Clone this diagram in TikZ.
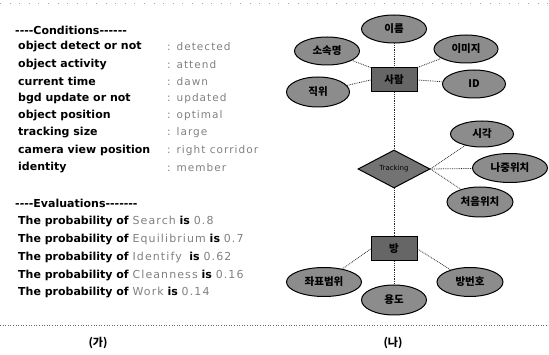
\documentclass[tikz,border=0pt]{standalone}
\usepackage{fontspec}
\setmainfont{DejaVu Sans}
\newfontfamily\kr{Noto Sans CJK KR}
\newfontfamily\valfont[LetterSpace=10]{DejaVu Sans}
\usetikzlibrary{shapes.geometric}
\newcommand\grayval[1]{{\mdseries\valfont\color{black!50}#1}}
\begin{document}
\begin{tikzpicture}[x=1pt,y=-1pt,
 lbl/.style={anchor=west, inner sep=0pt, font=\fontsize{11}{13}\selectfont\bfseries},
 val/.style={anchor=west, inner sep=0pt, font=\fontsize{10.5}{12}\valfont, text=black!50},
 attr/.style={ellipse, draw=black, line width=1pt, fill=black!45, inner sep=0pt, minimum width=64pt, minimum height=28pt, font=\kr\bfseries\fontsize{10.5}{12}\selectfont},
 ent/.style={rectangle, draw=black, line width=1pt, fill=black!60, minimum width=46pt, minimum height=24pt, inner sep=0pt, font=\kr\bfseries\fontsize{10.5}{12}\selectfont},
 rel/.style={diamond, draw=black, line width=1pt, fill=black!55, minimum width=72pt, minimum height=38pt, inner sep=0pt, aspect=1.9, font=\fontsize{7}{8}\selectfont},
 link/.style={densely dotted, line width=0.8pt, black!85},
 sepline/.style={dotted, line width=0.6pt, black!60},
 captext/.style={inner sep=0pt, font=\kr\bfseries\fontsize{11}{13}\selectfont}
]
\useasboundingbox (0,0) rectangle (549,355);
% faint top dots
\draw[black!35, line width=0.5pt, dash pattern=on 0.6pt off 9pt] (0,3) -- (549,3);

% ---- left panel: conditions
\node[lbl] (ch) at (15,30) {-{}-{}-{}-Conditions-{}-{}-{}-{}-{}-};
\foreach \i/\k/\v in {1/object detect or not/detected, 2/object activity/attend, 3/current time/dawn, 4/bgd update or not/updated, 5/object position/optimal, 6/tracking size/large, 7/camera view position/right corridor, 8/identity/member}{
  \node[lbl] (k\i) at (18,{29.8+17.2*\i}) {\k};
  \node[val] (v\i) at (167,{29.8+17.2*\i}) {: \v};
}

% ---- evaluations
\node[lbl] (eh) at (15,203) {-{}-{}-{}-Evaluations-{}-{}-{}-{}-{}-{}-};
\node[lbl] (e1) at (18,222) {The probability of \grayval{Search} is \grayval{0.8}};
\node[lbl] (e2) at (18,240) {The probability of \grayval{Equilibrium} is \grayval{0.7}};
\node[lbl] (e3) at (18,257.5) {The probability of \grayval{Identify}\ \ is \grayval{0.62}};
\node[lbl] (e4) at (18,275.5) {The probability of \grayval{Cleanness} is \grayval{0.16}};
\node[lbl] (e5) at (18,293) {The probability of \grayval{Work} is \grayval{0.14}};

% ---- right panel
\node[ent] (person) at (394,80) {사람};
\node[attr, minimum width=65pt] (name) at (394,29) {이름};
\node[attr, minimum width=65pt] (sosok) at (327,51) {소속명};
\node[attr] (image) at (466,49) {이미지};
\node[attr, minimum width=63pt, minimum height=30pt] (jikwi) at (318,92) {직위};
\node[attr, minimum width=63pt] (id) at (474,84) {ID};

\node[rel] (track) at (394,169) {Tracking};
\node[attr, minimum width=63pt, minimum height=26pt] (time) at (482,134) {시각};
\node[attr, minimum width=75pt, minimum height=29pt] (later) at (510,168) {나중위치};
\node[attr, minimum width=66pt, minimum height=30pt] (first) at (480,202) {처음위치};

\node[ent] (room) at (394,249) {방};
\node[attr, minimum width=75pt, minimum height=29pt] (coord) at (324,282) {좌표범위};
\node[attr, minimum width=65pt, minimum height=30pt] (use) at (394,300) {용도};
\node[attr, minimum width=66pt, minimum height=29pt] (roomno) at (470,282) {방번호};

\draw[link] (person) -- (name);
\draw[link] (person.north west) -- (sosok);
\draw[link] (person.west) -- (jikwi);
\draw[link] (person.north east) -- (image);
\draw[link] (person.east) -- (id);
\draw[link] (person) -- (track);
\draw[link] (track) -- (room);
\draw[link] (track.east) -- (time);
\draw[link] (track.east) -- (later);
\draw[link] (track.east) -- (first);
\draw[link] (room.west) -- (coord);
\draw[link] (room) -- (use);
\draw[link] (room.east) -- (roomno);

% separators and captions
\draw[sepline] (0,325) -- (549,325);
\node[captext] (ga) at (98,343) {(가)};
\node[captext] (na) at (393,343) {(나)};
\end{tikzpicture}
\end{document}
